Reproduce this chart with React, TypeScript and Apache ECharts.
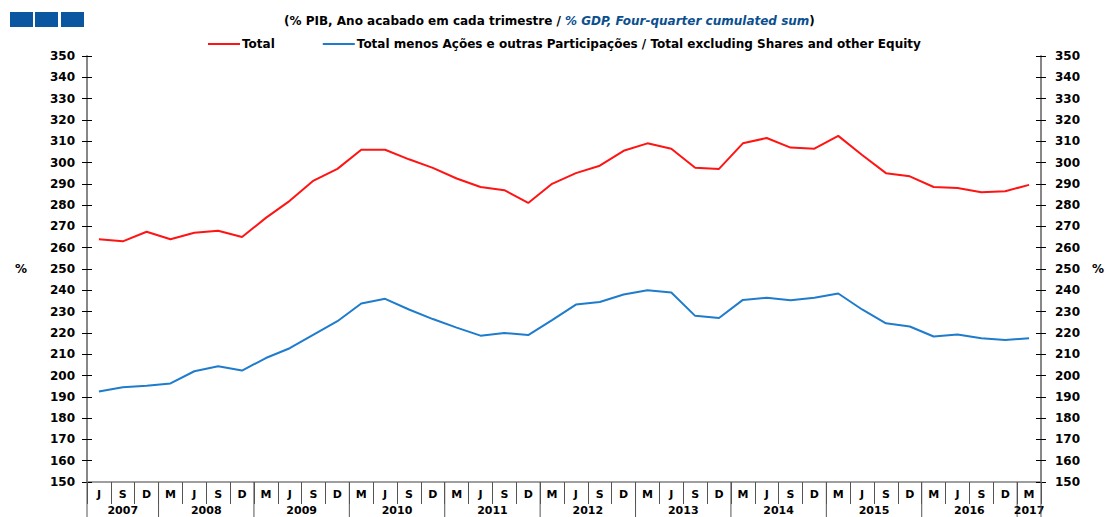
import React, { useEffect, useRef } from "react";
import * as echarts from "echarts";

const quarters = [
  "J", "S", "D",
  "M", "J", "S", "D",
  "M", "J", "S", "D",
  "M", "J", "S", "D",
  "M", "J", "S", "D",
  "M", "J", "S", "D",
  "M", "J", "S", "D",
  "M", "J", "S", "D",
  "M", "J", "S", "D",
  "M", "J", "S", "D",
  "M",
];
const years = ["2007", "2008", "2009", "2010", "2011", "2012", "2013", "2014", "2015", "2016", "2017"];
const yearQuarterCounts = [3, 4, 4, 4, 4, 4, 4, 4, 4, 4, 1];

const totalValues = [
  264, 263, 267.5, 264, 267, 268, 265, 274, 282, 291.5,
  297, 306, 306, 301.5, 297.5, 292.5, 288.5, 287, 281, 290,
  295, 298.5, 305.5, 309, 306.5, 297.5, 297, 309, 311.5, 307,
  306.5, 312.5, 303.5, 295, 293.5, 288.5, 288, 286, 286.5, 289.5,
];
const excludingValues = [
  192.5, 194.5, 195.2, 196.3, 202, 204.3, 202.3, 208.2, 212.8, 219.2,
  225.5, 233.8, 236, 231, 226.5, 222.5, 218.7, 220, 219, 226,
  233.3, 234.5, 238, 240, 239, 228, 227, 235.5, 236.5, 235.3,
  236.5, 238.5, 231, 224.5, 223, 218.3, 219.3, 217.5, 216.7, 217.5,
];

const seriesNames = ["Total", "Total menos Ações e outras Participações / Total excluding Shares and other Equity"];

const FONT = '"DejaVu Sans", "Liberation Sans", Arial, sans-serif';

export default function App() {
  const ref = useRef<HTMLDivElement>(null);

  useEffect(() => {
    if (!ref.current) return;
    const chart = echarts.init(ref.current, null, { renderer: "svg" });

    const yearData: number[][] = [];
    let start = 0;
    yearQuarterCounts.forEach((c) => {
      yearData.push([start, c]);
      start += c;
    });

    const labelStyle = {
      color: "#000",
      fontWeight: "bold" as const,
      fontSize: 12,
      fontFamily: FONT,
    };

    const yBase = {
      type: "value" as const,
      min: 150,
      max: 350,
      interval: 10,
      splitLine: { show: false },
      axisLine: { show: true, lineStyle: { color: "#7f7f7f", width: 1.5 } },
    };

    const option: any = {
      animation: false,
      backgroundColor: "#fff",
      title: {
        text: "{a|(% PIB, Ano acabado em cada trimestre / }{b|% GDP, Four-quarter cumulated sum}{a|)}",
        left: 279,
        top: 10,
        textStyle: {
          rich: {
            a: { color: "#000", fontWeight: "bold", fontSize: 12, fontFamily: FONT },
            b: { color: "#0b4f8f", fontWeight: "bold", fontStyle: "italic", fontSize: 12, fontFamily: FONT },
          },
        },
      },
      graphic: [
        { type: "rect", shape: { x: 10, y: 12, width: 23, height: 15 }, style: { fill: "#0b56a0" } },
        { type: "rect", shape: { x: 35, y: 12, width: 23, height: 15 }, style: { fill: "#0b56a0" } },
        { type: "rect", shape: { x: 61, y: 12, width: 23, height: 15 }, style: { fill: "#0b56a0" } },
      ],
      legend: {
        data: seriesNames,
        left: 203,
        top: 33,
        icon: "rect",
        itemWidth: 32,
        itemHeight: 2,
        itemGap: 48,
        textStyle: { ...labelStyle, fontSize: 12, padding: [0, 0, 0, -3] },
      },
      grid: { left: 87, right: 58, top: 56, bottom: 35, containLabel: false },
      xAxis: [
        {
          type: "category",
          data: quarters,
          boundaryGap: true,
          axisLine: { show: true, lineStyle: { color: "#7f7f7f", width: 1.5 } },
          axisTick: { show: true, interval: 0, length: 22, lineStyle: { color: "#555", width: 1 } },
          axisLabel: { ...labelStyle, fontSize: 11, interval: 0, margin: 7 },
          splitLine: { show: false },
        },
      ],
      yAxis: [
        {
          ...yBase,
          position: "left",
          name: "%",
          nameLocation: "middle",
          nameRotate: 0,
          nameGap: 60,
          nameTextStyle: { ...labelStyle, padding: [0, 0, 10, 0] },
          axisTick: { show: true, length: 5, lineStyle: { color: "#000" } },
          axisLabel: { ...labelStyle, margin: 12 },
        },
        {
          ...yBase,
          position: "right",
          name: "%",
          nameLocation: "middle",
          nameRotate: 0,
          nameGap: 51,
          nameTextStyle: { ...labelStyle, padding: [0, 0, 10, 0] },
          axisTick: { show: true, length: 5, lineStyle: { color: "#000" } },
          axisLabel: { ...labelStyle, margin: 14 },
        },
        {
          ...yBase,
          position: "left",
          axisTick: { show: true, inside: true, length: 5, lineStyle: { color: "#000" } },
          axisLabel: { show: false },
        },
        {
          ...yBase,
          position: "right",
          axisTick: { show: true, inside: true, length: 5, lineStyle: { color: "#000" } },
          axisLabel: { show: false },
        },
      ],
      series: [
        {
          name: seriesNames[0],
          type: "line",
          data: totalValues,
          symbol: "none",
          lineStyle: { color: "#ff1414", width: 2 },
          itemStyle: { color: "#ff1414" },
          yAxisIndex: 0,
        },
        {
          name: seriesNames[1],
          type: "line",
          data: excludingValues,
          symbol: "none",
          lineStyle: { color: "#1f7ccc", width: 2 },
          itemStyle: { color: "#1f7ccc" },
          yAxisIndex: 0,
        },
        {
          name: "years",
          type: "custom",
          xAxisIndex: 0,
          yAxisIndex: 0,
          clip: false,
          silent: true,
          data: yearData,
          renderItem: (params: any, api: any) => {
            const s = api.value(0);
            const c = api.value(1);
            const bw = api.size([1, 0])[0];
            const p0 = api.coord([s, 150]);
            const p1 = api.coord([s + c - 1, 150]);
            const xl = p0[0] - bw / 2;
            const xr = p1[0] + bw / 2;
            const y = p0[1];
            const children: any[] = [
              {
                type: "line",
                shape: { x1: xl, y1: y, x2: xl, y2: y + 40 },
                style: { stroke: "#555", lineWidth: 1 },
              },
              {
                type: "text",
                style: {
                  text: years[params.dataIndex],
                  x: (xl + xr) / 2,
                  y: y + 28,
                  align: "center",
                  verticalAlign: "middle",
                  fill: "#000",
                  fontSize: 11,
                  fontWeight: "bold",
                  fontFamily: FONT,
                },
              },
            ];
            if (params.dataIndex === years.length - 1) {
              children.push({
                type: "line",
                shape: { x1: xr, y1: y, x2: xr, y2: y + 40 },
                style: { stroke: "#555", lineWidth: 1 },
              });
            }
            return { type: "group", children };
          },
        },
      ],
    };

    chart.setOption(option);
    return () => chart.dispose();
  }, []);

  return (
    <div
      ref={ref}
      style={{ position: "fixed", left: 0, top: 0, width: 1107, height: 517 }}
    />
  );
}
